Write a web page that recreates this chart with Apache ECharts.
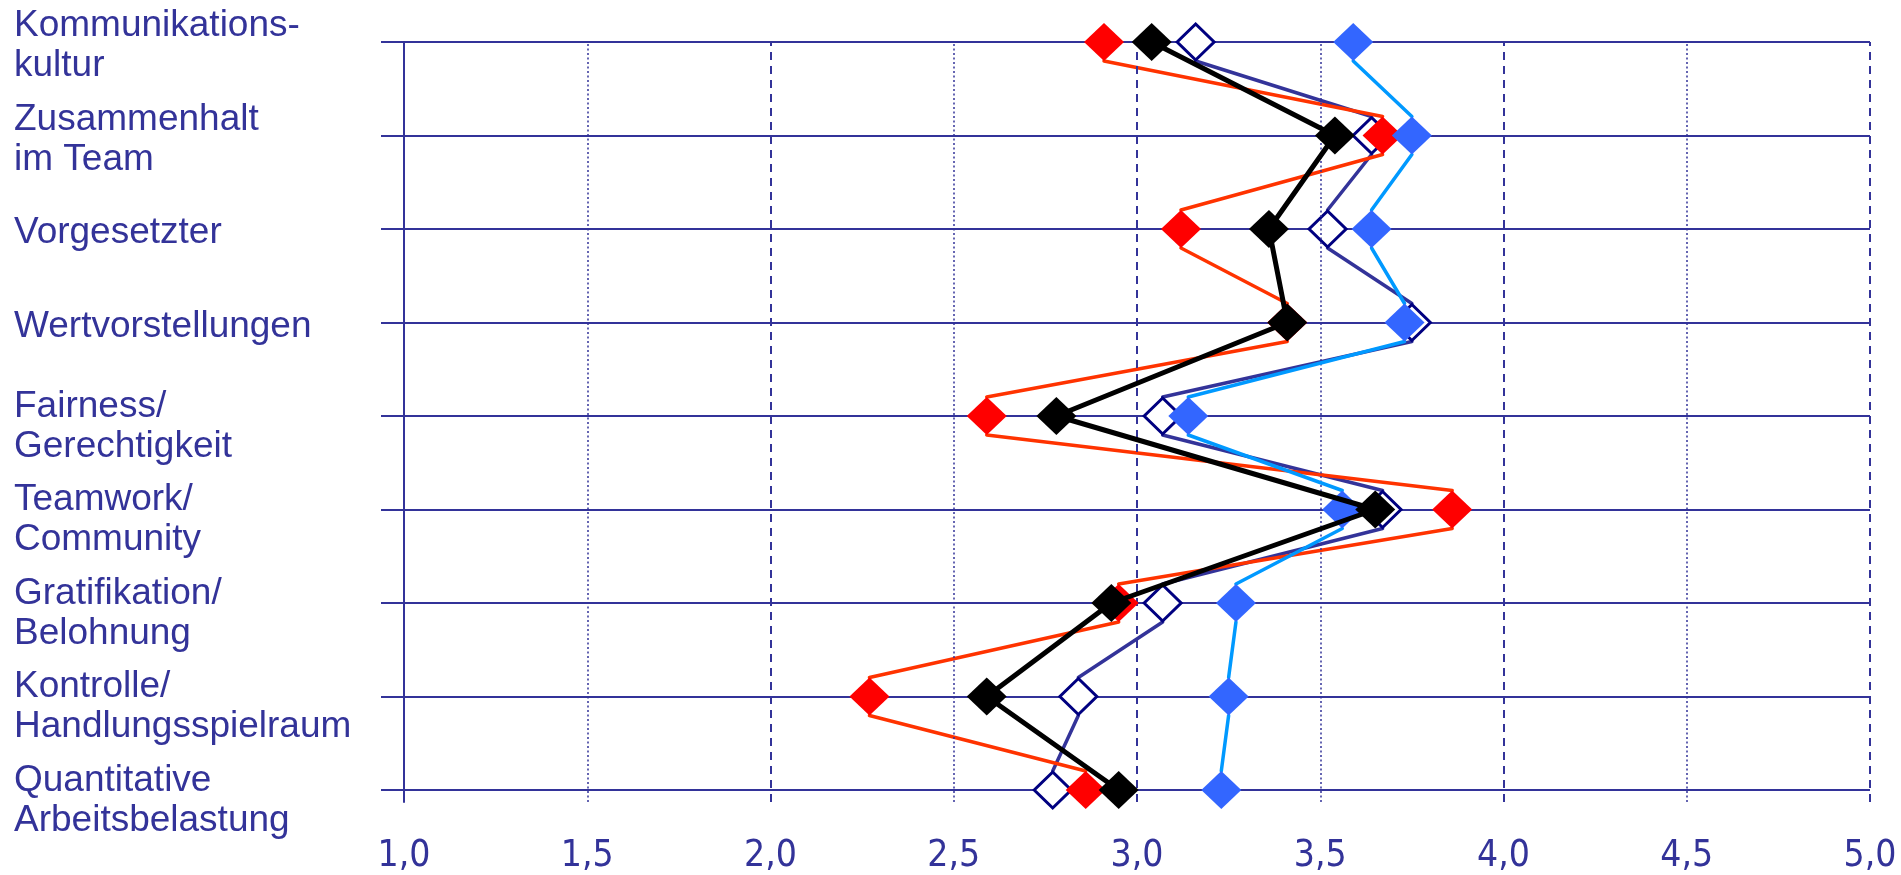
<!DOCTYPE html>
<html>
<head>
<meta charset="utf-8">
<script src="https://cdn.jsdelivr.net/npm/echarts@6/dist/echarts.min.js"></script>
<style>
  html, body { margin: 0; padding: 0; background: #ffffff; }
  #chart { width: 1901px; height: 875px; }
</style>
</head>
<body>
<div id="chart"></div>
<script>
// ---- data ----
const categories = [
  'Kommunikations-\nkultur',
  'Zusammenhalt\nim Team',
  'Vorgesetzter',
  'Wertvorstellungen',
  'Fairness/\nGerechtigkeit',
  'Teamwork/\nCommunity',
  'Gratifikation/\nBelohnung',
  'Kontrolle/\nHandlungsspielraum',
  'Quantitative\nArbeitsbelastung'
];
const hollowValues = [3.16, 3.64, 3.52, 3.75, 3.07, 3.67, 3.07, 2.84, 2.77];
const redValues    = [2.91, 3.67, 3.12, 3.41, 2.59, 3.86, 2.95, 2.27, 2.86];
const blueValues   = [3.59, 3.75, 3.64, 3.73, 3.14, 3.56, 3.27, 3.25, 3.23];
const blackValues  = [3.04, 3.54, 3.36, 3.41, 2.78, 3.65, 2.93, 2.59, 2.95];
const tickValues = [1.0, 1.5, 2.0, 2.5, 3.0, 3.5, 4.0, 4.5, 5.0];
const tickLabels = ['1,0', '1,5', '2,0', '2,5', '3,0', '3,5', '4,0', '4,5', '5,0'];
const halfGridValues = [1.5, 2.5, 3.5, 4.5];
const fullGridValues = [2.0, 3.0, 4.0, 5.0];

// ---- styles ----
const NAVY = '#333399';
const FONT = "'Liberation Sans', Arial, Helvetica, sans-serif";
const NARROW = "'Liberation Sans Narrow', 'Arial Narrow', 'DejaVu Sans Condensed', 'Liberation Sans', sans-serif";
const MARK = [40, 38];
const HALF = 19;

function lineSeries(vals, offset, color, width, z) {
  return {
    type: 'custom',
    xAxisIndex: 0, yAxisIndex: 0,
    z: z, silent: true,
    data: vals.map((v, i) => [v, i]),
    renderItem: function (params, api) {
      const i = params.dataIndex;
      if (i >= vals.length - 1) return { type: 'group', children: [] };
      const a = api.coord([api.value(0), api.value(1)]);
      const b = api.coord([vals[i + 1], i + 1]);
      return {
        type: 'line',
        shape: { x1: a[0], y1: a[1] + offset, x2: b[0], y2: b[1] - offset },
        style: { stroke: color, lineWidth: width, lineCap: 'round' }
      };
    }
  };
}
function markerSeries(vals, fill, border, borderWidth, size, z) {
  return {
    type: 'scatter',
    xAxisIndex: 0, yAxisIndex: 0,
    z: z, silent: true,
    symbol: 'diamond',
    symbolSize: size,
    itemStyle: { color: fill, borderColor: border, borderWidth: borderWidth, opacity: 1 },
    data: vals.map((v, i) => [v, i])
  };
}

const chart = echarts.init(document.getElementById('chart'), null, { renderer: 'canvas' });
chart.setOption({
  animation: false,
  backgroundColor: '#ffffff',
  grid: [
    { left: 404, top: 42, width: 1466, height: 748, containLabel: false },
    { left: 404, top: 42, width: 1466, height: 763, containLabel: false }
  ],
  xAxis: [
    { gridIndex: 0, type: 'value', min: 1, max: 5, show: false },
    {
      gridIndex: 1, type: 'value', min: 1, max: 5, interval: 0.5,
      axisLine: { show: false }, axisTick: { show: false }, splitLine: { show: false },
      axisLabel: {
        margin: 36, color: NAVY, fontFamily: NARROW, fontSize: 37,
        formatter: function (v) {
          const k = tickValues.findIndex(t => Math.abs(t - v) < 1e-6);
          return k >= 0 ? tickLabels[k] : '';
        }
      }
    }
  ],
  yAxis: [
    {
      gridIndex: 0, type: 'category', inverse: true, boundaryGap: false,
      data: categories,
      axisLine: { show: false },
      axisTick: { show: true, length: 23, lineStyle: { color: NAVY, width: 2 } },
      splitLine: { show: true, lineStyle: { color: NAVY, width: 2 } },
      axisLabel: {
        margin: 390, align: 'left', interval: 0,
        formatter: function (value, index) {
          const lines = value.split('\n').map(l => '{a|' + l + '}').join('\n');
          return (index >= 4 ? '{sp2| }\n' : '{sp1| }\n') + lines;
        },
        rich: {
          a: { color: NAVY, fontFamily: FONT, fontSize: 37, lineHeight: 40 },
          sp1: { fontSize: 1, lineHeight: 8 },
          sp2: { fontSize: 1, lineHeight: 21 }
        }
      }
    },
    {
      gridIndex: 1, type: 'value', min: 0, max: 1,
      axisLine: { show: true, lineStyle: { color: NAVY, width: 2 } },
      axisTick: { show: false }, axisLabel: { show: false }, splitLine: { show: false }
    }
  ],
  series: [
    {
      type: 'scatter', xAxisIndex: 1, yAxisIndex: 1, data: [], z: 1, silent: true,
      markLine: {
        silent: true, symbol: 'none', label: { show: false },
        animation: false,
        data: halfGridValues.map(v => ({ xAxis: v, lineStyle: { color: NAVY, width: 1.5, type: [2, 2.5] } }))
          .concat(fullGridValues.map(v => ({ xAxis: v, lineStyle: { color: NAVY, width: 2, type: [8, 6] } })))
      }
    },
    lineSeries(hollowValues, HALF, '#333399', 3.5, 2),
    markerSeries(hollowValues, '#ffffff', '#000080', 3, [37, 36], 3),
    lineSeries(redValues, HALF, '#FF3300', 3.5, 4),
    markerSeries(redValues, '#FF0000', '#FF0000', 0, MARK, 5),
    lineSeries(blueValues, HALF, '#0099FF', 3.5, 6),
    markerSeries(blueValues, '#3366FF', '#3366FF', 0, MARK, 7),
    lineSeries(blackValues, 0, '#000000', 5, 8),
    markerSeries(blackValues, '#000000', '#000000', 0, MARK, 9)
  ]
});
</script>
</body>
</html>
